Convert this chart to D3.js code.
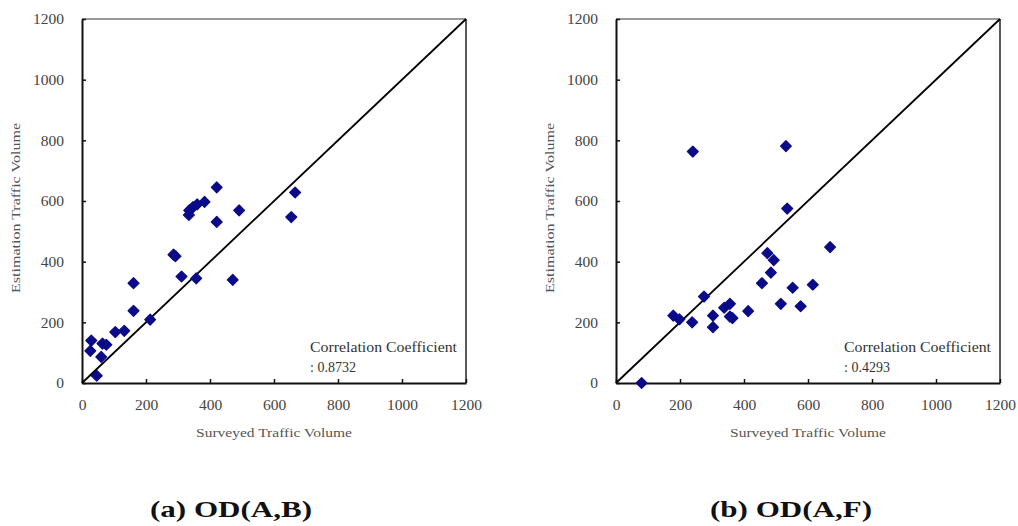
<!DOCTYPE html>
<html>
<head>
<meta charset="utf-8">
<script src="https://cdn.jsdelivr.net/npm/d3@7"></script>
<style>
  html, body { margin: 0; padding: 0; background: #fff; }
  svg { display: block; }
  svg text { font-family: "Liberation Serif", "Times New Roman", Tinos, serif; }
</style>
</head>
<body>
<svg id="chart" width="1018" height="526"></svg>
<script>
// ---- data ----
const axisTicks = [0, 200, 400, 600, 800, 1000, 1200];
const xAxisTitle = "Surveyed Traffic Volume";
const yAxisTitle = "Estimation Traffic Volume";
const coefTitle = "Correlation Coefficient";

const abSurveyed  = [29, 26, 46, 60, 64, 76, 104, 132, 161, 161, 213, 286, 292, 311, 357, 334, 335, 347, 360, 383, 421, 421, 491, 471, 654, 666];
const abEstimated = [140, 106, 24, 86, 130, 126, 168, 172, 238, 329, 209, 423, 418, 351, 345, 554, 569, 580, 589, 597, 645, 531, 569, 340, 547, 628];

const afSurveyed  = [80, 179, 198, 238, 240, 275, 303, 303, 338, 356, 356, 364, 413, 456, 473, 493, 484, 515, 552, 577, 615, 669, 531, 535];
const afEstimated = [0, 222, 210, 200, 763, 285, 222, 184, 248, 261, 219, 214, 237, 329, 428, 405, 364, 261, 314, 253, 324, 448, 781, 575];

const panelCaptions = ["(a) OD(A,B)", "(b) OD(A,F)"];
const panelCoefs = [": 0.8732", ": 0.4293"];

// ---- layout ----
(function () {
const svg = d3.select("#chart");
const markColor = "#0b0b8a";

const panels = [
  { xs: abSurveyed, ys: abEstimated, left: 82, caption: panelCaptions[0], coef: panelCoefs[0], capX: 150 },
  { xs: afSurveyed, ys: afEstimated, left: 616, caption: panelCaptions[1], coef: panelCoefs[1], capX: 710 }
];

const plotTop = 19, plotBottom = 383, plotW = 384;
const fmt = d3.format("d");

panels.forEach(p => {
  const x = d3.scaleLinear().domain([0, 1200]).range([p.left, p.left + plotW]);
  const y = d3.scaleLinear().domain([0, 1200]).range([plotBottom, plotTop]);
  const g = svg.append("g");

  // frame (top/right)
  g.append("line").attr("x1", x(0)).attr("x2", x(1200)).attr("y1", y(1200)).attr("y2", y(1200))
    .attr("stroke", "#333").attr("stroke-width", 1.2);
  g.append("line").attr("x1", x(1200)).attr("x2", x(1200)).attr("y1", y(0)).attr("y2", y(1200))
    .attr("stroke", "#222").attr("stroke-width", 1.5);

  // x axis
  const xa = g.append("g").attr("transform", `translate(0,${plotBottom})`)
    .call(d3.axisBottom(x).tickValues(axisTicks).tickFormat(fmt).tickSizeInner(-4).tickSizeOuter(0).tickPadding(12));
  xa.attr("font-family", null);
  xa.select(".domain").attr("stroke", "#111").attr("stroke-width", 2);
  xa.selectAll(".tick line").attr("stroke", "#111").attr("stroke-width", 1.5);
  xa.selectAll(".tick text").attr("font-size", 15.5)
    .attr("fill", "#444").attr("dy", "0.71em").attr("y", 16);

  // y axis
  const ya = g.append("g").attr("transform", `translate(${p.left},0)`)
    .call(d3.axisLeft(y).tickValues(axisTicks).tickFormat(fmt).tickSizeInner(-4).tickSizeOuter(0).tickPadding(18));
  ya.attr("font-family", null);
  ya.select(".domain").attr("stroke", "#111").attr("stroke-width", 2);
  ya.selectAll(".tick line").attr("stroke", "#111").attr("stroke-width", 1.5);
  ya.selectAll(".tick text").attr("font-size", 15.5)
    .attr("fill", "#444").attr("x", -18);

  // diagonal y = x
  g.append("line").attr("x1", x(0)).attr("y1", y(0)).attr("x2", x(1200)).attr("y2", y(1200))
    .attr("stroke", "#000").attr("stroke-width", 1.8);

  // points
  const pts = p.xs.map((v, i) => [v, p.ys[i]]);
  const sym = d3.symbol().type(d3.symbolSquare).size(58);
  g.append("g").selectAll("path").data(pts).join("path")
    .attr("d", sym)
    .attr("transform", d => `translate(${x(d[0])},${y(d[1])}) rotate(45)`)
    .attr("fill", markColor)
    .attr("stroke", markColor).attr("stroke-width", 1.3).attr("stroke-linejoin", "round");

  // axis titles
  g.append("text").attr("x", x(600)).attr("y", 437).attr("text-anchor", "middle")
    .attr("font-size", 13.5).attr("fill", "#555")
    .attr("textLength", 156).attr("lengthAdjust", "spacingAndGlyphs").text(xAxisTitle);
  const yc = (plotTop + plotBottom) / 2 + 7;
  g.append("text").attr("transform", `translate(${p.left - 62},${yc}) rotate(-90)`)
    .attr("text-anchor", "middle").attr("font-size", 13.5).attr("fill", "#555")
    .attr("textLength", 170).attr("lengthAdjust", "spacingAndGlyphs").text(yAxisTitle);

  // correlation note
  const cx = p.left + plotW - 156;
  g.append("text").attr("x", cx).attr("y", 352).attr("font-size", 14)
    .attr("fill", "#333").attr("textLength", 147).attr("lengthAdjust", "spacingAndGlyphs").text(coefTitle);
  g.append("text").attr("x", cx).attr("y", 372).attr("font-size", 14)
    .attr("fill", "#333").text(p.coef);

  // caption
  svg.append("text").attr("x", p.capX).attr("y", 517)
    .attr("font-weight", "bold").attr("font-size", 24).attr("fill", "#111")
    .attr("textLength", 162).attr("lengthAdjust", "spacingAndGlyphs").text(p.caption);
});
})();
</script>
</body>
</html>
